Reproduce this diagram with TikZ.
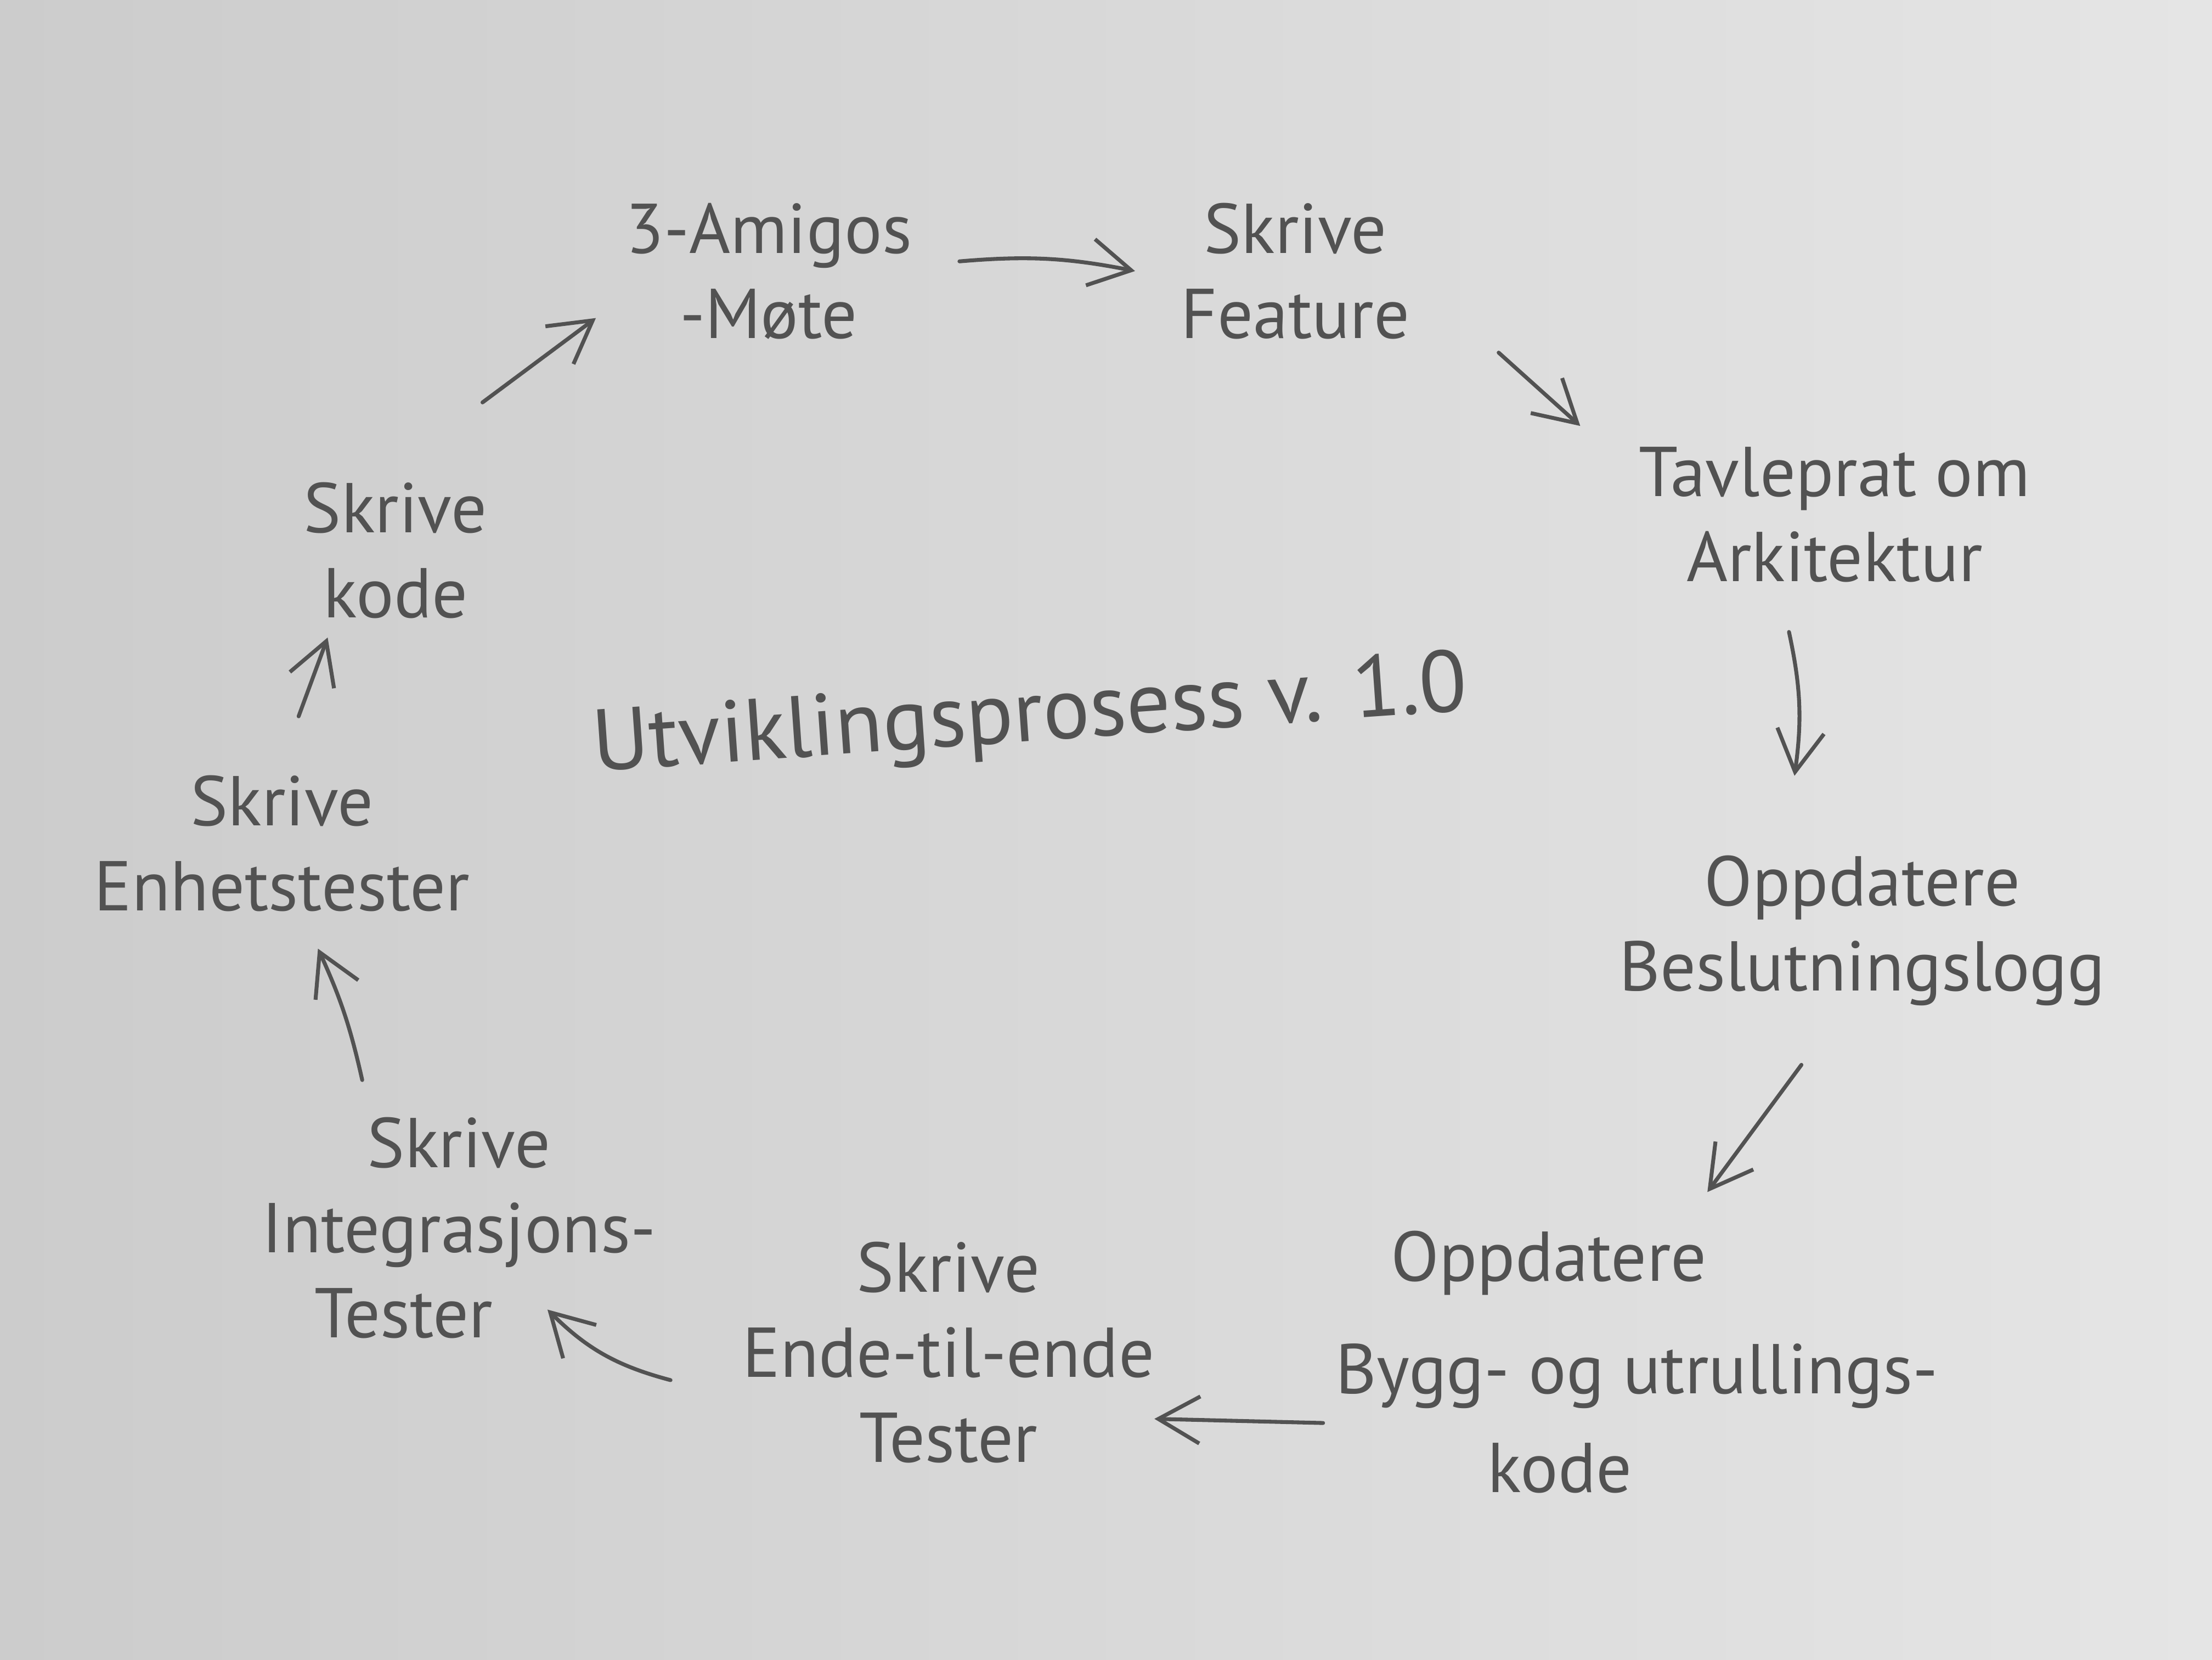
\documentclass[tikz,border=0pt]{standalone}
\usepackage{fontspec}
\setmainfont{PT Sans}
\usetikzlibrary{arrows.meta}
\definecolor{pencil}{RGB}{82,82,82}
\definecolor{paperl}{RGB}{204,204,204}
\definecolor{paperr}{RGB}{229,229,229}
\tikzset{
  stage/.style={text=pencil, align=center, inner sep=2pt,
    font=\fontsize{14.5}{17.5}\selectfont},
  flow/.style={draw=pencil, line width=0.8pt, line cap=round,
    -{Straight Barb[length=3mm,width=3.4mm,line width=0.8pt]}}
}
\begin{document}
\begin{tikzpicture}
      \shade[left color=paperl, right color=paperr] (0,0) rectangle (16,12);
      \useasboundingbox (0,0) rectangle (16,12);
      \path[every node/.style=stage]
        (5.56,10.04) node (amigos){3-Amigos\\-Møte}
        (9.37,10.04) node (feature){Skrive\\Feature}
        (13.27,8.28) node (tavle){Tavleprat om\\Arkitektur}
        (13.47,5.27) node (beslut){Oppdatere\\Beslutningslogg}
        (11.84,2.15) node[align=left] (bygg){\hspace*{4mm}Oppdatere\\[2mm]Bygg- og utrullings-\\[1mm]\hspace*{11mm}kode}
        (6.86,2.22) node (ende){Skrive\\Ende-til-ende\\Tester}
        (3.32,3.12) node (integ){Skrive\\Integrasjons-\\\hspace*{-8mm}Tester}
        (2.04,5.90) node (enhet){Skrive\\Enhetstester}
        (2.86,8.02) node (kode){Skrive\\kode}
        (7.45,6.80) node[rotate=4, font=\fontsize{18}{20}\selectfont] (tittel){Utviklingsprosess v. 1.0};
      \begin{scope}[flow]
        \draw ([shift={(1.38,0.07)}]amigos.center) to[bend left=8] ([shift={(-1.16,0)}]feature.center);
        \draw ([shift={(1.47,-0.59)}]feature.center) to ([shift={(-1.84,0.64)}]tavle.center);
        \draw ([shift={(-0.33,-0.85)}]tavle.center) to[bend left=10] ([shift={(-0.49,1.12)}]beslut.center);
        \draw ([shift={(-0.44,-0.97)}]beslut.center) to ([shift={(0.51,1.23)}]bygg.center);
        \draw ([shift={(-2.27,-0.44)}]bygg.center) to ([shift={(1.49,-0.48)}]ende.center);
        \draw ([shift={(-2.01,-0.20)}]ende.center) to[bend left=15] ([shift={(0.64,-0.59)}]integ.center);
        \draw ([shift={(-0.70,1.07)}]integ.center) to[bend right=6] ([shift={(0.26,-0.76)}]enhet.center);
        \draw ([shift={(0.12,0.92)}]enhet.center) to ([shift={(-0.49,-0.63)}]kode.center);
        \draw ([shift={(0.63,1.07)}]kode.center) to ([shift={(-1.25,-0.34)}]amigos.center);
      \end{scope}
\end{tikzpicture}
\end{document}
